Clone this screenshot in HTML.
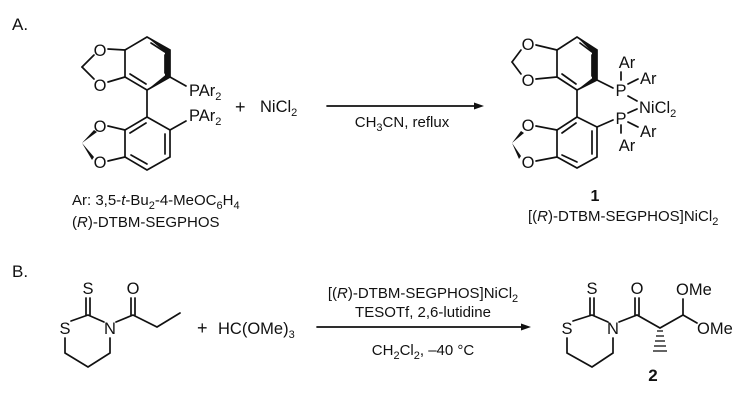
<!DOCTYPE html>
<html><head><meta charset="utf-8"><style>
html,body{margin:0;padding:0;background:#fff;}
svg{display:block;}
text{font-family:"Liberation Sans",Arial,sans-serif;font-size:15px;fill:#111;}
.s{font-size:11px;}
.a{text-anchor:middle;}
.o{font-size:16.5px;}
</style></head><body>
<svg width="750" height="404" viewBox="0 0 750 404" xmlns="http://www.w3.org/2000/svg">
<g stroke="#111" stroke-width="1.7" fill="none" stroke-linecap="round">
<polyline points="125,50 147,37 170,50 170,77 147,90 125,77 125,50"/>
<line x1="151" y1="43" x2="165" y2="52"/>
<line x1="165" y1="55" x2="165" y2="73"/>
<line x1="130" y1="74" x2="146" y2="84"/>
<line x1="125" y1="50" x2="108" y2="49"/>
<line x1="125" y1="77" x2="108" y2="82"/>
<line x1="94" y1="55" x2="82" y2="67"/>
<line x1="82" y1="67" x2="94" y2="79"/>
<line x1="170" y1="77" x2="186" y2="86"/>
<line x1="147" y1="90" x2="147" y2="117"/>
<polyline points="147,117 170,130 170,157 147,170 125,157 125,130 147,117"/>
<line x1="130" y1="133" x2="146" y2="123"/>
<line x1="165" y1="134" x2="165" y2="154"/>
<line x1="131" y1="155" x2="147" y2="164"/>
<line x1="125" y1="130" x2="108" y2="126"/>
<line x1="125" y1="157" x2="108" y2="161"/>
<line x1="170" y1="130" x2="186" y2="121"/>
<polyline points="557,50 577,37 597,50 597,80 577,90 557,77 557,50"/>
<line x1="580" y1="43" x2="592" y2="52"/>
<line x1="592" y1="55" x2="592" y2="76"/>
<line x1="562" y1="74" x2="576" y2="84"/>
<line x1="557" y1="50" x2="536" y2="45"/>
<line x1="557" y1="77" x2="536" y2="79"/>
<line x1="521" y1="50" x2="512" y2="62"/>
<line x1="512" y1="62" x2="521" y2="74"/>
<line x1="597" y1="80" x2="613" y2="88"/>
<line x1="577" y1="90" x2="577" y2="117"/>
<polyline points="577,117 597,127 597,157 577,168 557,157 557,130 577,117"/>
<line x1="562" y1="133" x2="576" y2="123"/>
<line x1="592" y1="131" x2="592" y2="154"/>
<line x1="562" y1="155" x2="577" y2="162"/>
<line x1="557" y1="130" x2="536" y2="126"/>
<line x1="557" y1="157" x2="536" y2="161"/>
<line x1="597" y1="127" x2="613" y2="120"/>
<line x1="621" y1="72" x2="621" y2="80"/>
<line x1="628" y1="84" x2="638" y2="79"/>
<line x1="628" y1="96" x2="637" y2="101"/>
<line x1="628" y1="113" x2="637" y2="109"/>
<line x1="628" y1="122" x2="638" y2="127"/>
<line x1="621" y1="125" x2="621" y2="133"/>
<polyline points="71,321 88,315 104,322"/>
<polyline points="110,338 110,353 88,367 65,353 65,338"/>
<line x1="86" y1="315" x2="86" y2="298"/>
<line x1="90" y1="315" x2="90" y2="298"/>
<polyline points="116,322 133,315 157,327 180,313"/>
<line x1="131" y1="315" x2="131" y2="298"/>
<line x1="135" y1="315" x2="135" y2="298"/>
<polyline points="573,321 592,315 608,322"/>
<polyline points="613,338 613,353 592,367 567,353 567,338"/>
<line x1="590" y1="315" x2="590" y2="298"/>
<line x1="594" y1="315" x2="594" y2="298"/>
<polyline points="619,322 637,315 660,328 683,315 697,323"/>
<line x1="635" y1="315" x2="635" y2="298"/>
<line x1="639" y1="315" x2="639" y2="298"/>
<line x1="683" y1="315" x2="683" y2="299"/>
<line x1="327" y1="106" x2="478" y2="106"/>
<line x1="317" y1="327" x2="525" y2="327"/>
</g>
<g fill="#111" stroke="none">
<polygon points="147,37 170,50 170,77 165,77 165,52"/>
<polygon points="147,90 170,77 168,73"/>
<polygon points="82,143 94,130 97,132"/>
<polygon points="82,143 94,157 92,160"/>
<polygon points="577,37 597,50 597,80 592,80 592,52"/>
<polygon points="577,90 597,80 595,76"/>
<polygon points="512,143 521,131 524,133"/>
<polygon points="512,143 521,156 519,159"/>
<polygon points="484,106 474,102.5 474,109.5"/>
<polygon points="531,327 521,323.5 521,330.5"/>
</g>
<g stroke="#111" stroke-width="1.3">
<line x1="657" y1="331" x2="663" y2="331"/>
<line x1="656" y1="336" x2="664" y2="336"/>
<line x1="655" y1="341" x2="665" y2="341"/>
<line x1="654" y1="346" x2="666" y2="346"/>
<line x1="653" y1="351" x2="667" y2="351"/>
</g>
<text x="12" y="30" style="font-size:17px">A.</text>
<text x="12" y="277" style="font-size:17px">B.</text>
<text class="a o" x="100" y="56">O</text><text class="a o" x="100" y="91">O</text>
<text class="a o" x="100" y="132">O</text><text class="a o" x="100" y="168">O</text>
<text x="189" y="96" class="o">PAr<tspan class="s" dy="4">2</tspan></text>
<text x="189" y="121" class="o">PAr<tspan class="s" dy="4">2</tspan></text>
<text x="235" y="113" style="font-size:18px">+</text>
<text x="260" y="112" class="o">NiCl<tspan class="s" dy="4">2</tspan></text>
<text x="72" y="205">Ar: 3,5-<tspan font-style="italic">t</tspan>-Bu<tspan class="s" dy="4">2</tspan><tspan dy="-4">-4-MeOC</tspan><tspan class="s" dy="4">6</tspan><tspan dy="-4">H</tspan><tspan class="s" dy="4">4</tspan></text>
<text x="72" y="227">(<tspan font-style="italic">R</tspan>)-DTBM-SEGPHOS</text>
<text class="a" x="402" y="127">CH<tspan class="s" dy="4">3</tspan><tspan dy="-4">CN, reflux</tspan></text>
<text class="a o" x="528" y="50">O</text><text class="a o" x="528" y="86">O</text>
<text class="a o" x="528" y="131">O</text><text class="a o" x="528" y="168">O</text>
<text class="a o" x="621" y="96">P</text><text class="a o" x="621" y="124">P</text>
<text class="a o" x="627" y="68">Ar</text><text x="640" y="84" class="o">Ar</text>
<text x="639" y="113" class="o">NiCl<tspan class="s" dy="4">2</tspan></text>
<text x="640" y="137" class="o">Ar</text><text class="a o" x="627" y="151">Ar</text>
<text class="a" x="595" y="201" font-weight="bold" style="font-size:16px">1</text>
<text x="528" y="221">[(<tspan font-style="italic">R</tspan>)-DTBM-SEGPHOS]NiCl<tspan class="s" dy="4">2</tspan></text>
<text class="a o" x="88" y="294">S</text>
<text class="a o" x="133" y="294">O</text>
<text class="a o" x="65" y="334">S</text>
<text class="a o" x="110" y="334">N</text>
<text x="197" y="334" style="font-size:18px">+</text>
<text x="218" y="334" class="o">HC(OMe)<tspan class="s" dy="4">3</tspan></text>
<text class="a" x="423" y="298">[(<tspan font-style="italic">R</tspan>)-DTBM-SEGPHOS]NiCl<tspan class="s" dy="4">2</tspan></text>
<text class="a" x="423" y="317">TESOTf, 2,6-lutidine</text>
<text class="a" x="423" y="355">CH<tspan class="s" dy="4">2</tspan><tspan dy="-4">Cl</tspan><tspan class="s" dy="4">2</tspan><tspan dy="-4">, –40 °C</tspan></text>
<text class="a o" x="592" y="294">S</text>
<text class="a o" x="637" y="294">O</text>
<text class="a o" x="567" y="334">S</text>
<text class="a o" x="613" y="334">N</text>
<text x="676" y="295" class="o">OMe</text>
<text x="697" y="334" class="o">OMe</text>
<text class="a" x="653" y="381" font-weight="bold" style="font-size:17px">2</text>
</svg>
</body></html>
